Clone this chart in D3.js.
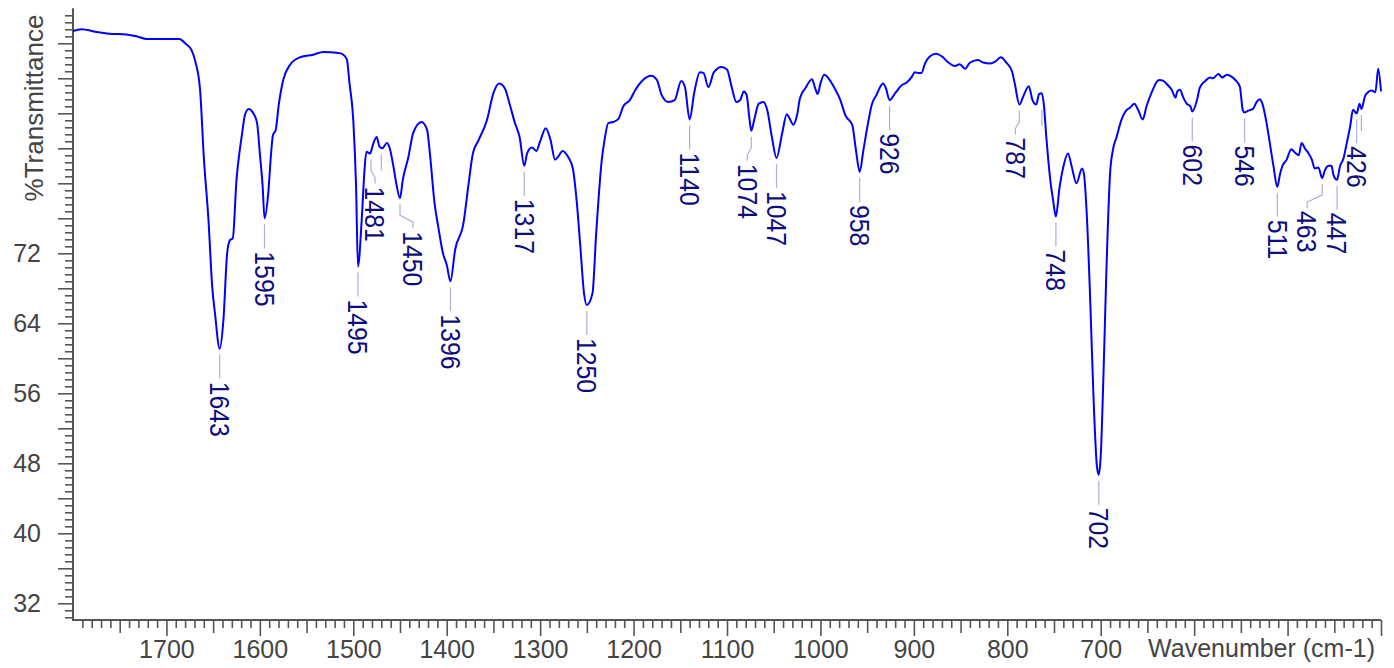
<!DOCTYPE html>
<html>
<head>
<meta charset="utf-8">
<script src="https://cdn.jsdelivr.net/npm/d3@7"></script>
<style>
  body { margin: 0; background: #fff; }
  svg { display: block; font-family: "Liberation Sans", Arial, sans-serif; }
</style>
</head>
<body>
<svg id="chart" width="1394" height="668"></svg>
<script>
// spectrum (cm-1 / %T)
var wavenumbers = [
  1800,1791,1775,1761,1743,1732,1721,1710,1696,1686,1680,1673,1669,1664,1660,1655,1651,1648,1643,1639,
  1635,1632,1629,1625,1621,1619,1616,1612,1607,1603,1600,1597,1595,1591,1588,1586,1583,1580,1575,1568,
  1557,1543,1532,1516,1512,1507,1504,1500,1497,1495,1491,1488,1486,1482,1479,1475,1472,1469,1464,1461,
  1457,1454,1450,1447,1441,1436,1427,1421,1418,1413,1409,1404,1400,1396,1391,1382,1377,1372,1366,1357,
  1350,1344,1338,1332,1327,1322,1317,1314,1309,1304,1300,1294,1289,1284,1281,1276,1270,1265,1261,1257,
  1253,1250,1244,1240,1234,1231,1227,1222,1216,1211,1204,1198,1191,1181,1175,1170,1163,1156,1149,1145,
  1140,1135,1129,1125,1120,1114,1106,1100,1095,1090,1086,1082,1079,1076,1074,1071,1066,1061,1057,1052,
  1047,1041,1036,1033,1029,1025,1022,1016,1009,1006,1003,1000,996,990,984,979,973,966,962,958,
  954,949,945,940,933,930,926,920,913,908,902,899,895,892,888,883,876,870,863,856,
  851,845,840,831,826,818,813,807,801,795,792,787,783,777,773,769,766,763,761,758,
  754,751,748,744,740,735,731,726,720,718,715,711,708,704,702,700,697,694,690,687,
  683,678,672,669,664,660,655,651,645,640,637,633,628,624,620,618,615,612,608,604,
  602,597,594,588,583,580,574,570,565,560,555,551,548,546,542,537,533,530,527,523,
  519,515,511,508,505,501,496,492,488,485,481,478,474,471,467,463,460,456,453,451,
  447,444,440,437,433,430,426,423,421,417,414,410,406,403,400
];
var transmittance = [
  97.4,97.6,97.3,97.1,97.0,96.8,96.5,96.5,96.5,96.5,96.0,95.2,93.9,90.7,83.0,75.8,68.2,65.1,61.1,64.4,
  72.0,73.5,73.7,80.4,84.2,85.7,87.8,88.5,88.0,86.9,83.4,79.6,76.0,78.9,83.4,85.5,86.1,88.8,91.8,93.5,
  94.4,94.7,95.0,94.9,94.8,94.2,91.4,87.2,79.6,70.5,75.8,81.5,83.6,83.4,84.4,85.3,84.2,84.0,84.6,84.0,
  81.9,80.0,78.3,80.4,83.0,85.7,87.0,86.1,83.4,77.7,75.0,72.0,70.7,68.8,72.4,75.5,79.6,83.4,84.9,87.2,
  90.3,91.4,90.9,88.8,86.9,85.3,82.0,83.4,84.1,83.7,84.8,86.3,85.0,82.7,83.0,83.7,83.0,81.7,78.1,72.8,
  67.4,66.1,67.4,74.3,82.7,85.0,86.9,87.0,87.4,88.8,89.5,90.7,91.7,92.3,91.8,90.1,89.3,89.5,91.7,91.0,
  87.3,90.4,92.7,92.6,91.0,92.7,93.3,93.0,91.0,89.3,89.5,90.5,90.1,87.4,86.0,87.2,89.1,89.3,88.4,85.3,
  82.9,85.7,87.9,87.4,86.7,87.8,89.7,90.9,91.9,91.0,90.2,91.4,92.4,91.8,90.7,89.6,87.7,86.7,83.8,81.3,
  83.8,86.9,89.0,90.1,91.4,90.9,89.5,90.3,91.2,91.5,92.2,92.7,92.6,92.6,93.7,94.5,94.8,94.5,93.8,93.4,
  93.6,93.1,93.8,94.1,93.8,93.7,93.9,94.4,93.8,92.8,91.4,89.0,89.9,91.1,89.5,89.0,90.2,90.3,89.1,85.0,
  80.4,78.1,76.2,79.6,81.9,83.4,81.9,80.0,81.7,81.1,76.6,65.9,56.4,47.6,46.7,48.8,58.3,69.7,81.1,83.8,
  85.3,87.2,88.4,88.6,89.1,88.4,87.3,88.8,90.5,91.6,91.8,91.7,91.2,90.7,89.8,90.5,90.7,89.9,89.1,88.8,
  88.2,89.5,90.9,91.7,92.1,92.0,92.5,92.1,92.4,92.2,91.7,91.0,88.4,88.1,88.3,88.5,89.3,89.6,89.1,87.2,
  84.6,81.9,79.6,81.1,82.1,82.7,83.9,83.5,83.2,84.6,83.9,83.5,82.7,81.7,81.8,80.6,81.5,82.0,82.0,81.0,
  80.4,81.9,82.9,84.4,86.5,88.4,88.0,89.1,88.5,90.0,90.4,90.6,90.4,93.1,90.5
];

// peak picks shown on the chart
var peakLabels = [1643,1595,1495,1481,1450,1396,1317,1250,1140,1074,1047,958,926,787,748,702,602,546,511,463,447,426];
// picks whose text is hidden (only the leader line shows)
var hiddenPeaks = [1470, 763, 421];

var xTickLabels = [1700,1600,1500,1400,1300,1200,1100,1000,900,800,700];
var yTickLabels = [32,40,48,56,64,72];

// sideways shift of some pick labels (px)
var labelShift = {1481: 4, 1450: 13, 1074: -4, 787: -4, 463: -15};

var data = wavenumbers.map(function(w, i) { return [w, transmittance[i]]; });

var svg = d3.select('#chart');
var axisColor = '#555', textColor = '#444';

var x = d3.scaleLinear().domain([1800, 400]).range([73, 1381]);
var y = d3.scaleLinear().domain([30, 100]).range([620.8, 8.3]);

/*
  x axis: minor every 10, mid every 50, major every 100
*/
var xMinor = d3.range(1790, 399, -10).filter(function(v) { return v % 50 !== 0; });
var xMid = d3.range(1750, 399, -100);
var xMajor = d3.range(1700, 399, -100);

function styleAxis(g) {
  g.select('.domain').remove();
  g.selectAll('line').attr('stroke', axisColor).attr('stroke-width', 1.6);
  g.selectAll('text').attr('fill', textColor).attr('font-size', 25)
    .attr('font-family', '"Liberation Sans", Arial, sans-serif');
}

svg.append('g').attr('transform', 'translate(0,620)')
  .call(d3.axisBottom(x).tickValues(xMinor).tickSize(8).tickFormat(''))
  .call(styleAxis);
svg.append('g').attr('transform', 'translate(0,620)')
  .call(d3.axisBottom(x).tickValues(xMid).tickSize(13).tickFormat(''))
  .call(styleAxis);
svg.append('g').attr('transform', 'translate(0,620)')
  .call(d3.axisBottom(x).tickValues(xMajor).tickSize(16).tickPadding(4)
    .tickFormat(function(d) { return xTickLabels.indexOf(d) >= 0 ? d : ''; }))
  .call(styleAxis);

/*
  y axis: minor every 0.8, major every 4, labels every 8
*/
var yAll = d3.range(-2, 85).map(function(k) { return +(32 + 0.8 * k).toFixed(1); });
var yMinor = yAll.filter(function(v, i) { return (i - 2) % 5 !== 0; });
var yMajor = yAll.filter(function(v, i) { return (i - 2) % 5 === 0; });

svg.append('g').attr('transform', 'translate(73,0)')
  .call(d3.axisLeft(y).tickValues(yMinor).tickSize(8).tickFormat(''))
  .call(styleAxis);
svg.append('g').attr('transform', 'translate(73,0)')
  .call(d3.axisLeft(y).tickValues(yMajor).tickSize(15).tickPadding(17)
    .tickFormat(function(d) { return yTickLabels.indexOf(d) >= 0 ? d : ''; }))
  .call(styleAxis);

// axis lines
svg.append('path')
  .attr('d', 'M73,' + y(100) + 'V620H' + x(400))
  .attr('fill', 'none').attr('stroke', axisColor).attr('stroke-width', 2);

// titles
svg.append('text')
  .attr('transform', 'translate(42.5,108) rotate(-90)')
  .attr('text-anchor', 'middle').attr('font-size', 26).attr('fill', textColor)
  .text('%Transmittance');
svg.append('text')
  .attr('x', 1375).attr('y', 657)
  .attr('text-anchor', 'end').attr('font-size', 25).attr('fill', textColor)
  .text('Wavenumber (cm-1)');

/*
  spectrum
*/
var line = d3.line()
  .x(function(d) { return x(d[0]); })
  .y(function(d) { return y(d[1]); })
  .curve(d3.curveMonotoneX);

svg.append('path').datum(data)
  .attr('d', line)
  .attr('fill', 'none')
  .attr('stroke', '#0000ff')
  .attr('stroke-width', 2)
  .attr('stroke-linejoin', 'round');

/*
  peak picks
*/
function peakY(w) {
  var near = data.filter(function(d) { return Math.abs(d[0] - w) <= 3; });
  return y(d3.min(near, function(d) { return d[1]; }));
}

var leader = d3.line();
var picks = svg.append('g');

hiddenPeaks.forEach(function(w) {
  var px = x(w), py = peakY(w);
  picks.append('path')
    .attr('d', leader([[px, py + 6], [px, py + 22]]))
    .attr('fill', 'none').attr('stroke', '#aab0d6').attr('stroke-width', 1.2);
});

peakLabels.forEach(function(w) {
  var px = x(w), py = peakY(w);
  var dx = labelShift[w] || 0;
  var pts = dx ? [[px, py + 6], [px, py + 17], [px + dx, py + 24], [px + dx, py + 30]]
               : [[px, py + 6], [px, py + 30]];
  picks.append('path')
    .attr('d', leader(pts))
    .attr('fill', 'none').attr('stroke', '#aab0d6').attr('stroke-width', 1.2);
  picks.append('text')
    .attr('transform', 'translate(' + (px + dx - 9.7) + ',' + (py + 33) + ') rotate(90) scale(0.92,1)')
    .attr('font-size', 27)
    .attr('fill', '#0d0d80')
    .text(w);
});
</script>
</body>
</html>
